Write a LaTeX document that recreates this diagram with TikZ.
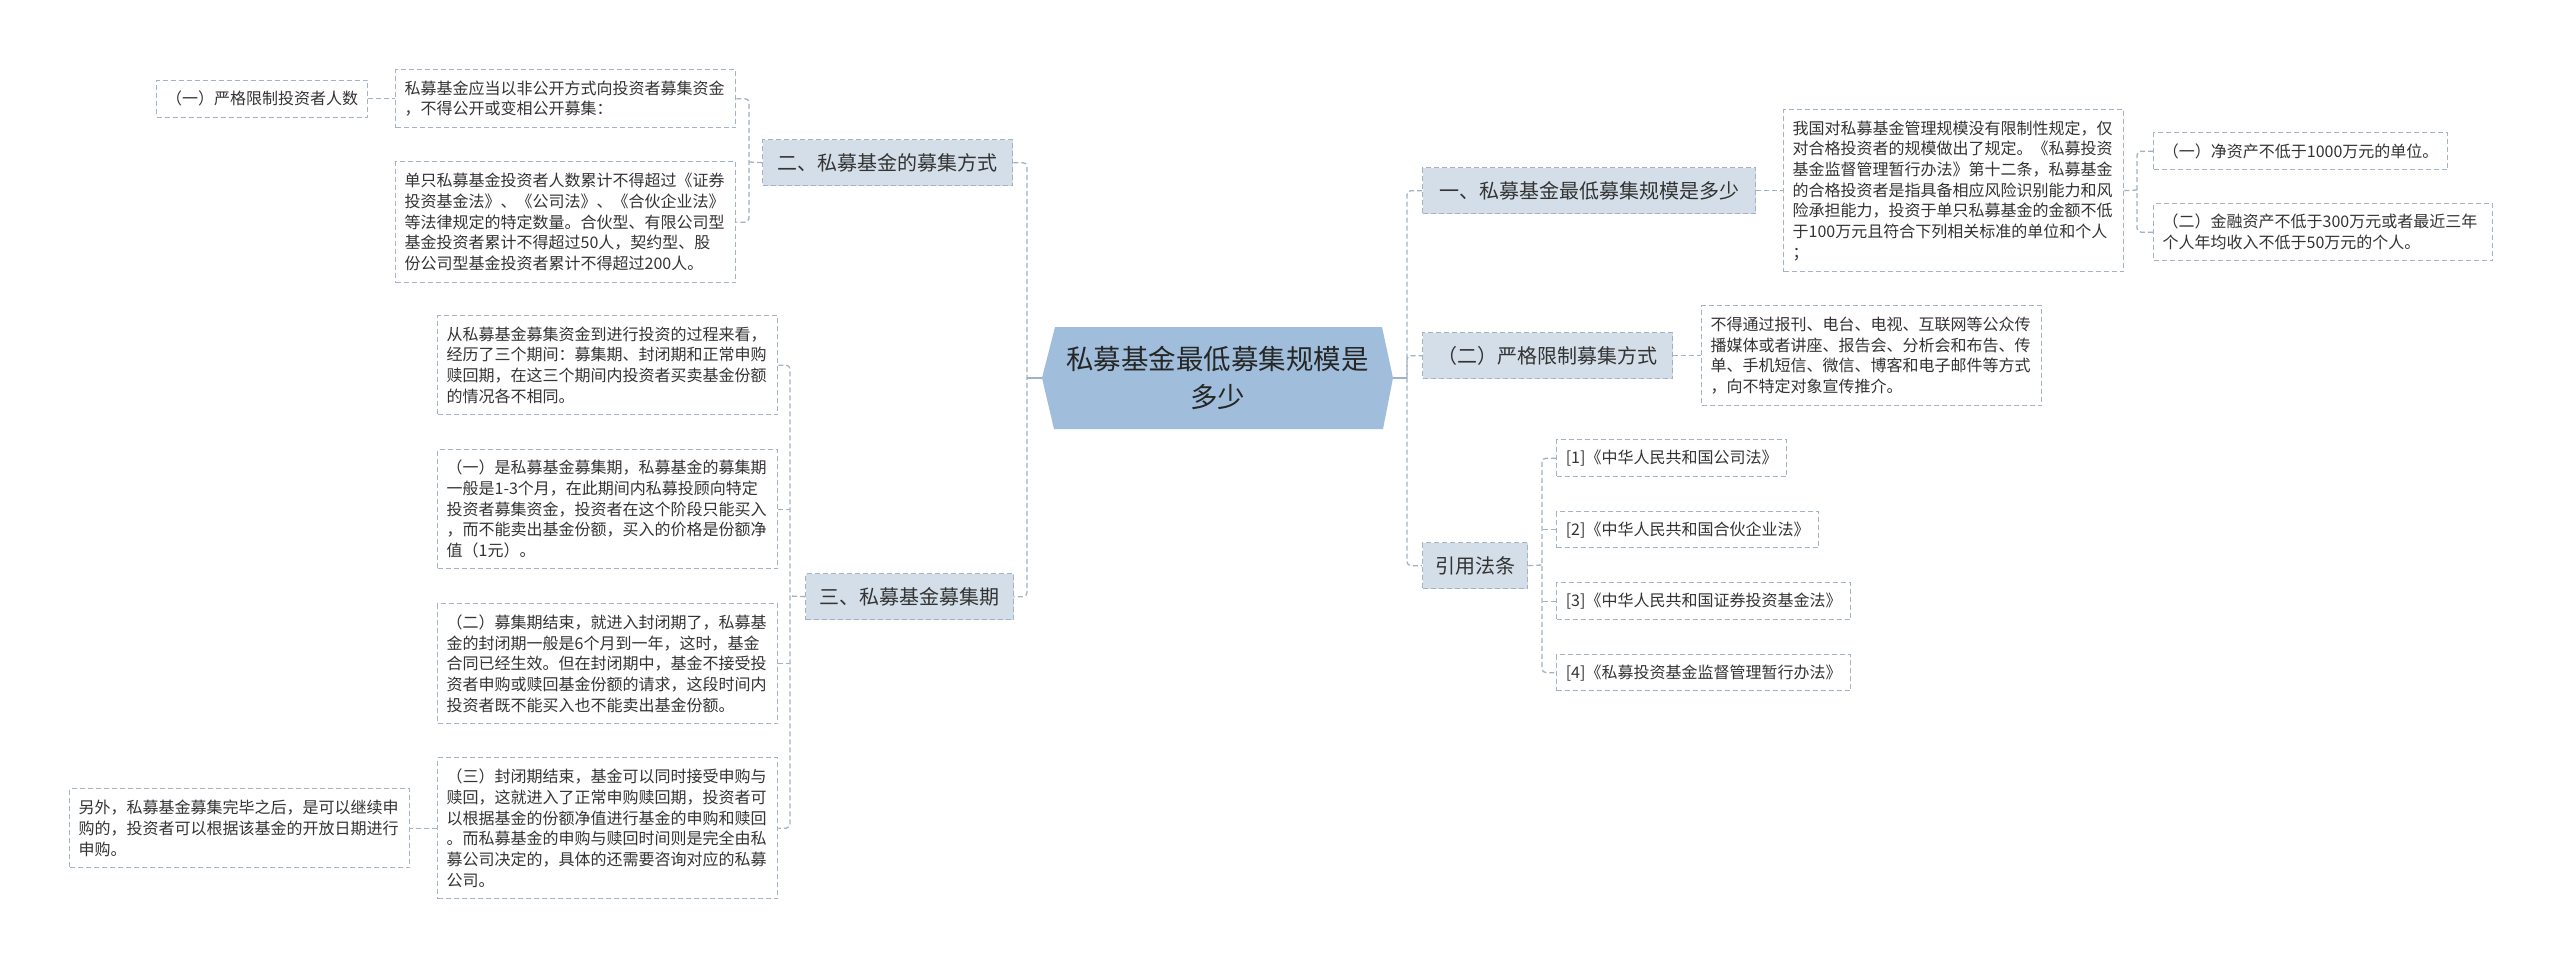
\documentclass[tikz,border=0pt]{standalone}
\usepackage{fontspec}
\setmainfont{Noto Sans CJK SC}
\definecolor{hexfill}{HTML}{A0BEDB}
\definecolor{lonefill}{HTML}{D3DEE8}
\definecolor{bordc}{HTML}{A3B3C4}
\definecolor{connc}{HTML}{A0B2C6}
\definecolor{txt}{HTML}{333333}
\newcommand\leaffont{\fontsize{16}{20.7}\selectfont}
\newcommand\lonefont{\fontsize{20}{24}\selectfont}
\newcommand\rootfont{\fontsize{27.5}{38}\selectfont}
\begin{document}
\begin{tikzpicture}[x=1pt,y=-1pt,
  leaf/.style={draw=bordc, fill=white, line width=1.3pt, dash pattern=on 5pt off 3pt,
    inner xsep=9pt, inner ysep=0pt, font=\leaffont, text=txt, anchor=north west},
  para/.style={leaf, align=left, text width=322pt, minimum width=340pt},
  lone/.style={draw=bordc, fill=lonefill, line width=1.3pt, dash pattern=on 5pt off 3pt,
    inner xsep=8pt, inner ysep=0pt, font=\lonefont, text=txt, anchor=north west, minimum height=46pt},
  rootnode/.style={font=\rootfont, text=black!85, align=center, inner sep=0pt},
  conn/.style={draw=connc, line width=1.3pt, dash pattern=on 5pt off 3pt, rounded corners=4pt},
  solidconn/.style={draw=connc, line width=1.8pt}]
\useasboundingbox (0,0) rectangle (2560,967);
\fill[white] (0,0) rectangle (2560,967);

% root hexagon
\fill[hexfill] (1042,378) -- (1055,327) -- (1382,327) -- (1393,378) -- (1383,429) -- (1054,429) -- cycle;
\node[rootnode, minimum width=351pt, minimum height=102pt] (root) at (1217.5,378) {私募基金最低募集规模是\\多少};

% level one
\node[lone, minimum width=250pt] (er) at (762,139) {二、私募基金的募集方式};
\node[lone, minimum width=208pt] (san) at (805,573) {三、私募基金募集期};
\node[lone, minimum width=333pt] (yi) at (1422,167) {一、私募基金最低募集规模是多少};
\node[lone, minimum width=250pt] (er2) at (1422,332) {（二）严格限制募集方式};
\node[lone, minimum width=105pt] (yf) at (1422,542) {引用法条};

% left leaves
\node[leaf, minimum width=211pt, minimum height=37pt] (a1) at (156,79.5) {（一）严格限制投资者人数};
\node[para, minimum height=58pt] (a2) at (395,69) {私募基金应当以非公开方式向投资者募集资金\\，不得公开或变相公开募集：};
\node[para, minimum height=121pt] (a3) at (395,161) {单只私募基金投资者人数累计不得超过《证券\\投资基金法》、《公司法》、《合伙企业法》\\等法律规定的特定数量。合伙型、有限公司型\\基金投资者累计不得超过50人，契约型、股\\份公司型基金投资者累计不得超过200人。};
\node[para, minimum height=99pt] (b1) at (437,315) {从私募基金募集资金到进行投资的过程来看，\\经历了三个期间：募集期、封闭期和正常申购\\赎回期，在这三个期间内投资者买卖基金份额\\的情况各不相同。};
\node[para, minimum height=119pt] (b2) at (437,449) {（一）是私募基金募集期，私募基金的募集期\\一般是1-3个月，在此期间内私募投顾向特定\\投资者募集资金，投资者在这个阶段只能买入\\，而不能卖出基金份额，买入的价格是份额净\\值（1元）。};
\node[para, minimum height=120pt] (b3) at (437,603) {（二）募集期结束，就进入封闭期了，私募基\\金的封闭期一般是6个月到一年，这时，基金\\合同已经生效。但在封闭期中，基金不接受投\\资者申购或赎回基金份额的请求，这段时间内\\投资者既不能买入也不能卖出基金份额。};
\node[para, minimum height=141pt] (b4) at (437,757) {（三）封闭期结束，基金可以同时接受申购与\\赎回，这就进入了正常申购赎回期，投资者可\\以根据基金的份额净值进行基金的申购和赎回\\。而私募基金的申购与赎回时间则是完全由私\\募公司决定的，具体的还需要咨询对应的私募\\公司。};
\node[para, minimum height=79pt] (b5) at (69,788) {另外，私募基金募集完毕之后，是可以继续申\\购的，投资者可以根据该基金的开放日期进行\\申购。};

% right leaves
\node[para, minimum height=162pt] (r1a) at (1783,109) {我国对私募基金管理规模没有限制性规定，仅\\对合格投资者的规模做出了规定。《私募投资\\基金监督管理暂行办法》第十二条，私募基金\\的合格投资者是指具备相应风险识别能力和风\\险承担能力，投资于单只私募基金的金额不低\\于100万元且符合下列相关标准的单位和个人\\；};
\node[leaf, minimum width=294pt, minimum height=37pt] (r1b) at (2153,132) {（一）净资产不低于1000万元的单位。};
\node[leaf, align=left, text width=321pt, minimum width=339pt, minimum height=57pt] (r1c) at (2153,203) {（二）金融资产不低于300万元或者最近三年\\个人年均收入不低于50万元的个人。};
\node[para, minimum height=100pt] (r2a) at (1701,305) {不得通过报刊、电台、电视、互联网等公众传\\播媒体或者讲座、报告会、分析会和布告、传\\单、手机短信、微信、博客和电子邮件等方式\\，向不特定对象宣传推介。};
\node[leaf, minimum width=230pt, minimum height=37pt] (ref1) at (1556,439) {[1]《中华人民共和国公司法》};
\node[leaf, minimum width=262pt, minimum height=36pt] (ref2) at (1556,511) {[2]《中华人民共和国合伙企业法》};
\node[leaf, minimum width=294pt, minimum height=37pt] (ref3) at (1556,582) {[3]《中华人民共和国证券投资基金法》};
\node[leaf, minimum width=294pt, minimum height=36pt] (ref4) at (1556,654) {[4]《私募投资基金监督管理暂行办法》};

% trunks
\coordinate (lt) at (1027,378);
\coordinate (rt) at (1407,378);
\draw[solidconn] (root.west) -- (lt);
\draw[solidconn] (root.east) -- (rt);
\draw[conn] (er.east) -| (lt) |- (san.east);
\draw[conn] (yi.west) -| (rt) |- (yf.west);
\draw[conn] (rt) |- (er2.west);

% branch 二
\coordinate (erj) at (749,162);
\draw[conn] (er.west) -- (erj);
\draw[conn] (a2.east) -| (erj) |- (a3.east);
\draw[conn] (a1.east) -- (a2.west);

% branch 三
\coordinate (sanj) at (790,596);
\draw[conn] (san.west) -- (sanj);
\draw[conn] (b1.east) -| (sanj) |- (b4.east);
\draw[conn] (b2.east) -- (b2.east -| sanj);
\draw[conn] (b3.east) -- (b3.east -| sanj);
\draw[conn] (b4.west) -- (b5.east);

% branch 一
\coordinate (yij) at (2137,190);
\draw[conn] (yi.east) -- (r1a.west);
\draw[conn] (r1a.east) -- (yij);
\draw[conn] (r1b.west) -| (yij) |- (r1c.west);

% branch (二)
\draw[conn] (er2.east) -- (r2a.west);

% branch 引用法条
\coordinate (yfj) at (1542,565);
\draw[conn] (yf.east) -- (yfj);
\draw[conn] (ref1.west) -| (yfj) |- (ref4.west);
\draw[conn] (ref2.west) -- (ref2.west -| yfj);
\draw[conn] (ref3.west) -- (ref3.west -| yfj);
\end{tikzpicture}
\end{document}
